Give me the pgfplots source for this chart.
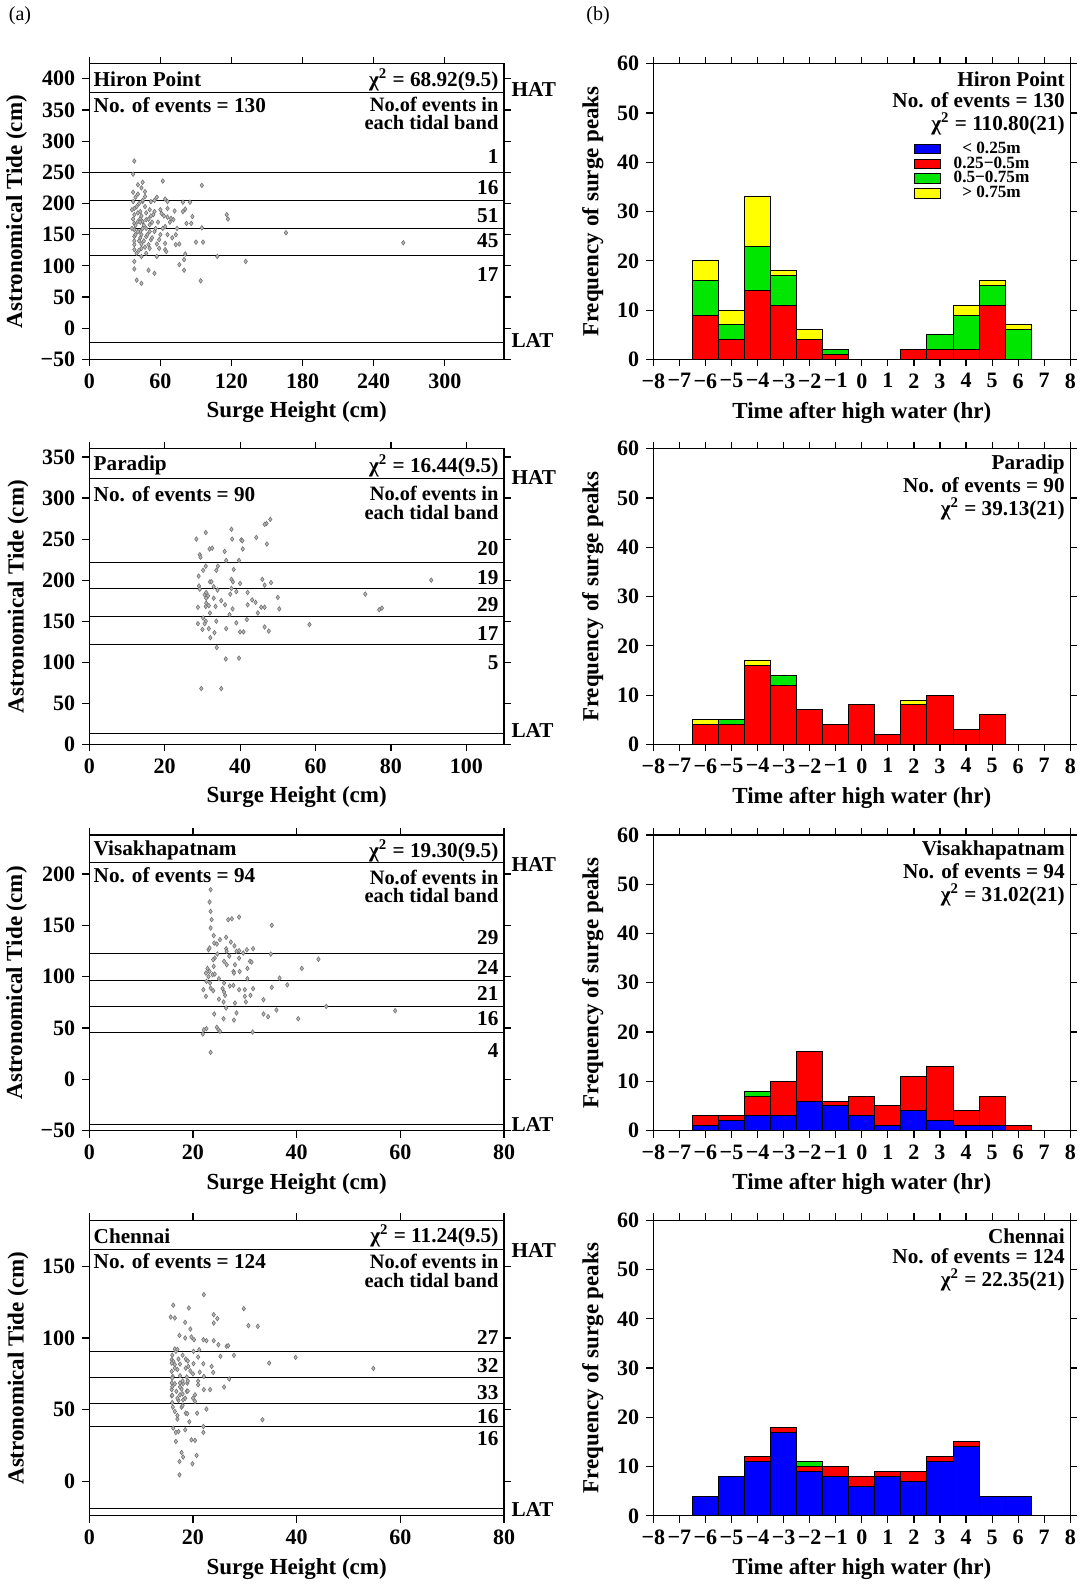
\documentclass[border=0pt]{standalone}
\usepackage{fontspec}
\setmainfont{Liberation Serif}
\usepackage{pgfplots}
\pgfplotsset{compat=1.18}
\definecolor{bblue}{RGB}{0,0,255}
\definecolor{bred}{RGB}{255,0,0}
\definecolor{bgreen}{RGB}{0,230,0}
\definecolor{byellow}{RGB}{255,255,0}
\tikzset{pf/.style={font=\bfseries\fontsize{10.6}{11}\selectfont, inner xsep=1pt},
  rt/.style={pf, anchor=east, xshift=-1.6pt},
  lt/.style={pf, anchor=west, xshift=1pt},
  ot/.style={pf, anchor=west, xshift=2.6pt},
  two/.style={pf, anchor=east, xshift=-1.6pt, align=right, font=\bfseries\fontsize{10.2}{9.2}\selectfont}}
\pgfplotsset{
  base/.style={scale only axis, clip=false, axis line style={line width=0.6pt},
    tick align=outside, major tick length=3.5pt, tick style={line width=0.6pt, black},
    /pgf/number format/assume math mode=true,
    tick label style={font=\bfseries\fontsize{11}{12}\selectfont},
    label style={font=\bfseries\fontsize{11.5}{13}\selectfont}},
  scat/.style={base, width=207.35pt, height=147.8pt, anchor=north west,
    xlabel={Surge Height (cm)}, ylabel={Astronomical Tide (cm)}},
  hist/.style={base, width=208.5pt, height=147.8pt, anchor=north west,
    xmin=-8, xmax=8, ymin=0, ymax=60, xtick={-8,...,8},
    xticklabels={−8,−7,−6,−5,−4,−3,−2,−1,0,1,2,3,4,5,6,7,8},
    ytick={0,10,...,60}, ylabel={Frequency of surge peaks},
    xlabel={Time after high water (hr)}, ybar stacked, bar width=1},
  pts/.style={only marks, mark=diamond*, mark size=1.15pt, draw=gray!90!black, fill=gray!55, line width=0.3pt},
  hl/.style={black, line width=0.5pt, no marks},
  bb/.style={fill=bblue, draw=black, line width=0.5pt},
  br/.style={fill=bred, draw=black, line width=0.5pt},
  bg/.style={fill=bgreen, draw=black, line width=0.5pt},
  by/.style={fill=byellow, draw=black, line width=0.5pt},
}
\begin{document}
\begin{tikzpicture}
\useasboundingbox (0,0) rectangle (540pt,792.5pt);
\node[font=\fontsize{10}{11}\selectfont] at (10pt,784.5pt) {(a)};
\node[font=\fontsize{10}{11}\selectfont] at (299pt,784.5pt) {(b)};

% ---------------- Hiron Point scatter
\begin{axis}[scat, at={(44.65pt,760.6pt)}, xmin=0, xmax=350, ymin=-50, ymax=424,
  xtick={0,60,...,300}, ytick={-50,0,...,400},
  yticklabels={−50,0,50,100,150,200,250,300,350,400}]
\addplot[pts] table {
38 268
37 247
41 230
45 234
62 236
95 229
37 218
41 215
47 219
47 211
37 203
45 203
52 203
57 210
64 207
66 203
79 202
85 202
38 192
43 187
51 190
55 187
66 192
81 191
79 187
38 182
43 176
48 174
54 182
61 184
69 176
71 174
87 179
116 182
117 175
38 168
41 171
45 171
51 166
64 163
82 168
86 168
95 161
38 158
43 155
48 160
55 155
66 150
73 150
166 153
38 147
43 145
48 147
52 142
59 142
38 134
44 135
50 134
51 128
64 136
73 134
76 135
90 138
96 138
265 137
38 126
44 128
48 120
59 128
64 126
65 123
38 107
44 115
57 115
76 102
81 119
80 110
108 115
132 107
38 95
50 93
55 88
80 93
40 77
44 72
94 76
40 195
42 200
44 180
46 165
39 150
42 140
47 130
40 120
45 160
50 175
53 170
56 160
41 185
43 170
49 150
37 175
39 165
44 150
46 140
52 180
58 170
60 190
62 160
68 170
70 145
36 160
38 140
42 125
48 185
53 145
57 135
63 180
74 160
39 210
45 205
36 190
41 155
47 195
51 155
55 205
60 150
66 178
72 188
44 225
};
\addplot[hl] coordinates {(0,378) (350,378)};
\addplot[hl] coordinates {(0,249) (350,249)};
\addplot[hl] coordinates {(0,204) (350,204)};
\addplot[hl] coordinates {(0,160) (350,160)};
\addplot[hl] coordinates {(0,117) (350,117)};
\addplot[hl] coordinates {(0,-22.5) (350,-22.5)};
\node[lt] at (axis cs:0,399) {Hiron Point};
\node[rt] at (axis cs:350,399) {χ\textsuperscript{2} = 68.92(9.5)};
\node[lt] at (axis cs:0,358) {No. of events = 130};
\node[two] at (axis cs:350,344) {No.of events in\\each tidal band};
\node[rt] at (axis cs:350,275) {1};
\node[rt] at (axis cs:350,225) {16};
\node[rt] at (axis cs:350,180) {51};
\node[rt] at (axis cs:350,140) {45};
\node[rt] at (axis cs:350,86) {17};
\node[ot] at (axis cs:350,382) {HAT};
\node[ot] at (axis cs:350,-20) {LAT};
\end{axis}

% ---------------- Paradip scatter
\begin{axis}[scat, at={(44.65pt,568.1pt)}, xmin=0, xmax=110, ymin=0, ymax=360,
  xtick={0,20,...,100}, ytick={0,50,...,350}]
\addplot[pts] table {
48 274
47 269
46.5 268
30.9 258
37.7 262
28.4 250
37.9 250
40.3 249
40.6 248
44.3 252
47.1 244
31.9 238
32.6 239
40.7 238
35.9 235
29.3 231
29.5 228
36.3 224
39.7 224
30.9 217
34.1 217
33.7 212
30.2 212
38.3 213
32 198
32.4 198
37.7 201
38.1 198
45.9 201
48.2 197
46.5 194
40 196
29.1 193
29.3 189
37.7 190
39 186
37.4 183
30.6 182
31.5 181
31 178
43.2 176
44.1 173
50 179
73.2 183
90.7 200
28.8 167
30.9 168
31.7 169
33.5 168
42 170
45.6 167
46.5 167
50.4 165
76.9 164
77.6 166
37.2 158
44.7 160
30.2 154
30.9 150
41.8 152
28.8 147
30.6 147
33.7 150
39 148
58.4 146
31.7 141
33.2 136
32.1 130
36.3 141
40 137
40.9 137
46.5 143
47.6 138
33.8 118
36.2 104
39.7 105
29.7 68
35 68
31 185
33 192
35 175
29 205
32 160
34 188
36 170
30 140
38 165
42 185
31 172
33 178
};
\addplot[hl] coordinates {(0,323.6) (110,323.6)};
\addplot[hl] coordinates {(0,221.5) (110,221.5)};
\addplot[hl] coordinates {(0,189.4) (110,189.4)};
\addplot[hl] coordinates {(0,155.7) (110,155.7)};
\addplot[hl] coordinates {(0,122) (110,122)};
\addplot[hl] coordinates {(0,13.4) (110,13.4)};
\node[lt] at (axis cs:0,339.4) {Paradip};
\node[rt] at (axis cs:110,339) {χ\textsuperscript{2} = 16.44(9.5)};
\node[lt] at (axis cs:0,305) {No. of events = 90};
\node[two] at (axis cs:110,294) {No.of events in\\each tidal band};
\node[rt] at (axis cs:110,239) {20};
\node[rt] at (axis cs:110,203.7) {19};
\node[rt] at (axis cs:110,170) {29};
\node[rt] at (axis cs:110,134.6) {17};
\node[rt] at (axis cs:110,99.6) {5};
\node[ot] at (axis cs:110,325) {HAT};
\node[ot] at (axis cs:110,17.5) {LAT};
\end{axis}

% ---------------- Visakhapatnam scatter
\begin{axis}[scat, at={(44.65pt,375pt)}, xmin=0, xmax=80, ymin=-50, ymax=238,
  xtick={0,20,...,80}, ytick={-50,0,...,200}, yticklabels={−50,0,50,100,150,200}]
\addplot[pts] table {
23.4 184.7
23.2 172.7
23.4 163.6
23.6 155.5
23.4 147.4
26.8 155.5
27.5 156.4
28.9 158
35.2 150
24.1 132.7
24.6 131.8
25.2 136
26.4 138.3
27.3 133.7
23.0 126.2
23.2 127.9
24.7 122
26.4 127.2
26.5 124.6
28.4 124.6
28.9 125.3
30.4 126.2
31.6 127.2
24.2 118
23.9 116.5
28.9 118
29.7 123
35 122
44.2 117
26 114.9
26.5 111.6
28.1 111.6
31 114.9
31.3 114.2
22.8 108
22.5 103.5
23.2 105
23.8 101.9
24.2 102.5
27.8 105
27.9 103.5
30.5 108
41 108
22.6 95.4
23.3 93.8
26 93.8
27.8 91.5
30.5 98
36.7 98.6
38.2 92
22 87.3
23.4 88.9
23.9 86.3
25.7 88.3
27.1 90.9
28.9 87.3
30 87.3
31.6 88.3
35.2 89.6
22.5 80.8
26.2 81.8
30 80.8
31.1 81.8
33.6 77.5
25.9 75.3
28.1 74.3
30.2 75.3
26.4 69.4
45.7 71
59 66.8
24.1 63.6
28.4 64.6
33.6 63.6
34.5 61
36.1 67.5
25.9 59
27.9 57.7
40.3 59
22.1 48.3
22.6 49.3
24.6 50.6
24.9 48.3
25.2 46.7
21.9 44.1
31.5 46
23.4 26.2
24 110
25 98
27 120
29 105
23 100
26 85
28 130
24 140
25 78
};
\addplot[hl] coordinates {(0,211) (80,211)};
\addplot[hl] coordinates {(0,122.4) (80,122.4)};
\addplot[hl] coordinates {(0,96.4) (80,96.4)};
\addplot[hl] coordinates {(0,70.7) (80,70.7)};
\addplot[hl] coordinates {(0,46) (80,46)};
\addplot[hl] coordinates {(0,-44) (80,-44)};
\node[lt] at (axis cs:0,222.7) {Visakhapatnam};
\node[rt] at (axis cs:80,222.7) {χ\textsuperscript{2} = 19.30(9.5)};
\node[lt] at (axis cs:0,198.6) {No. of events = 94};
\node[two] at (axis cs:80,188) {No.of events in\\each tidal band};
\node[rt] at (axis cs:80,138.3) {29};
\node[rt] at (axis cs:80,109) {24};
\node[rt] at (axis cs:80,84) {21};
\node[rt] at (axis cs:80,58.7) {16};
\node[rt] at (axis cs:80,27.9) {4};
\node[ot] at (axis cs:80,209) {HAT};
\node[ot] at (axis cs:80,-43.6) {LAT};
\end{axis}

% ---------------- Chennai scatter
\begin{axis}[scat, at={(44.65pt,182.35pt)}, xmin=0, xmax=80, ymin=-24, ymax=182,
  xtick={0,20,...,80}, ytick={0,50,100,150}]
\addplot[pts] table {
22.1 130.2
16.2 122.8
19.2 120.9
29.8 120.4
15.7 114.6
16.5 113.9
24 116.2
24.7 113.5
24 110.4
18.5 110.9
30.7 108.6
32.5 108.1
19.5 106.2
17.4 101.8
18.5 100
19.7 100.7
20.2 98.8
22 98.8
22.6 98.1
24 98.1
24.9 95.3
26.5 94.2
26.8 94.6
16.5 92.3
16.7 90.7
20.1 90.7
21.2 91.8
25.3 87.2
27.9 87.9
39.8 86.5
15.9 84.8
16.2 83.7
17.2 85.3
18.6 85.3
21 86.7
15.9 82.5
16.5 81.4
17.5 81.8
18.6 79
19.1 80.2
20.1 82.1
23.6 80.2
23.9 76
34.7 82.5
54.8 78.8
15.9 76.7
16.1 73.2
17.5 73.7
18.8 72.8
21.3 76.2
22.1 73.2
27 71.4
15.9 68.6
16.5 68.1
17.5 68.6
18.1 68.1
18.9 68.6
21 67.4
15.9 64
16.8 62.8
17.8 64.4
18.8 62.8
22.1 64
23.3 64
26 65.8
15.9 59.7
17.5 60.4
20.4 60.4
17.2 56.5
18.1 56.9
20.4 55.8
16.1 51.8
17.8 51.8
22.6 50.4
16.5 48.8
18.6 47.6
18.9 47.2
20.8 47.6
17 43.5
33.4 43
19.3 41.6
16.2 37.2
16.7 34.2
17.2 34.8
18.5 36
22 38.3
22 34.2
19.7 29
20.4 28.6
16.7 27.9
17.8 20.2
18.1 17
20.7 18.1
17.4 13.9
19.9 12.3
17.4 4.6
16 88
17 78
18 70
16 66
19 63
17 58
18 53
16 72
20 75
17 92
19 84
21 70
18 61
16 55
17 46
19 70
20 58
22 82
18 88
16 60
17.5 66
19.5 77
16.5 79
18.5 58
};
\addplot[hl] coordinates {(0,161.6) (80,161.6)};
\addplot[hl] coordinates {(0,90.7) (80,90.7)};
\addplot[hl] coordinates {(0,72.5) (80,72.5)};
\addplot[hl] coordinates {(0,54.6) (80,54.6)};
\addplot[hl] coordinates {(0,38.3) (80,38.3)};
\addplot[hl] coordinates {(0,-19) (80,-19)};
\node[lt] at (axis cs:0,170.9) {Chennai};
\node[rt] at (axis cs:80,170.9) {χ\textsuperscript{2} = 11.24(9.5)};
\node[lt] at (axis cs:0,153.5) {No. of events = 124};
\node[two] at (axis cs:80,146.7) {No.of events in\\each tidal band};
\node[rt] at (axis cs:80,100) {27};
\node[rt] at (axis cs:80,80.7) {32};
\node[rt] at (axis cs:80,62.1) {33};
\node[rt] at (axis cs:80,45.3) {16};
\node[rt] at (axis cs:80,30.2) {16};
\node[ot] at (axis cs:80,161.1) {HAT};
\node[ot] at (axis cs:80,-19.3) {LAT};
\end{axis}

% ---------------- Hiron Point histogram
\begin{axis}[hist, at={(326.65pt,760.6pt)},
  legend style={draw=none, fill=none, at={(axis cs:2,44.4)}, anchor=north west,
    font=\bfseries\fontsize{8.6}{8.6}\selectfont, row sep=-0.6pt, inner sep=0pt,
    nodes={inner sep=0.4pt}},
  legend image code/.code={\draw[#1] (0pt,-2.4pt) rectangle (12.7pt,2.4pt);}]
\addplot[bb] coordinates {(-6,0) (-5,0) (-4,0) (-3,0) (-2,0) (-1,0) (0,0) (1,0) (2,0) (3,0) (4,0) (5,0) (6,0)};
\addlegendentry{\makebox[50pt][c]{< 0.25m}}
\addplot[br] coordinates {(-6,9) (-5,4) (-4,14) (-3,11) (-2,4) (-1,1) (0,0) (1,0) (2,2) (3,2) (4,2) (5,11) (6,0)};
\addlegendentry{\makebox[50pt][c]{0.25−0.5m}}
\addplot[bg] coordinates {(-6,7) (-5,3) (-4,9) (-3,6) (-2,0) (-1,1) (0,0) (1,0) (2,0) (3,3) (4,7) (5,4) (6,6)};
\addlegendentry{\makebox[50pt][c]{0.5−0.75m}}
\addplot[by] coordinates {(-6,4) (-5,3) (-4,10) (-3,1) (-2,2) (-1,0) (0,0) (1,0) (2,0) (3,0) (4,2) (5,1) (6,1)};
\addlegendentry{\makebox[50pt][c]{> 0.75m}}
\node[rt] at (axis cs:8,56.8) {Hiron Point};
\node[rt] at (axis cs:8,52.7) {No. of events = 130};
\node[rt] at (axis cs:8,47.9) {χ\textsuperscript{2} = 110.80(21)};
\end{axis}

% ---------------- Paradip histogram
\begin{axis}[hist, at={(326.65pt,568.1pt)}]
\addplot[br] coordinates {(-6,4) (-5,4) (-4,16) (-3,12) (-2,7) (-1,4) (0,8) (1,2) (2,8) (3,10) (4,3) (5,6) (6,0)};
\addplot[bg] coordinates {(-6,0) (-5,1) (-4,0) (-3,2) (-2,0) (-1,0) (0,0) (1,0) (2,0) (3,0) (4,0) (5,0) (6,0)};
\addplot[by] coordinates {(-6,1) (-5,0) (-4,1) (-3,0) (-2,0) (-1,0) (0,0) (1,0) (2,1) (3,0) (4,0) (5,0) (6,0)};
\node[rt] at (axis cs:8,56.8) {Paradip};
\node[rt] at (axis cs:8,52.7) {No. of events = 90};
\node[rt] at (axis cs:8,47.9) {χ\textsuperscript{2} = 39.13(21)};
\end{axis}

% ---------------- Visakhapatnam histogram
\begin{axis}[hist, at={(326.65pt,375pt)}]
\addplot[bb] coordinates {(-6,1) (-5,2) (-4,3) (-3,3) (-2,6) (-1,5) (0,3) (1,1) (2,4) (3,2) (4,1) (5,1) (6,0)};
\addplot[br] coordinates {(-6,2) (-5,1) (-4,4) (-3,7) (-2,10) (-1,1) (0,4) (1,4) (2,7) (3,11) (4,3) (5,6) (6,1)};
\addplot[bg] coordinates {(-6,0) (-5,0) (-4,1) (-3,0) (-2,0) (-1,0) (0,0) (1,0) (2,0) (3,0) (4,0) (5,0) (6,0)};
\node[rt] at (axis cs:8,56.8) {Visakhapatnam};
\node[rt] at (axis cs:8,52.7) {No. of events = 94};
\node[rt] at (axis cs:8,47.9) {χ\textsuperscript{2} = 31.02(21)};
\end{axis}

% ---------------- Chennai histogram
\begin{axis}[hist, at={(326.65pt,182.35pt)}]
\addplot[bb] coordinates {(-6,4) (-5,8) (-4,11) (-3,17) (-2,9) (-1,8) (0,6) (1,8) (2,7) (3,11) (4,14) (5,4) (6,4)};
\addplot[br] coordinates {(-6,0) (-5,0) (-4,1) (-3,1) (-2,1) (-1,2) (0,2) (1,1) (2,2) (3,1) (4,1) (5,0) (6,0)};
\addplot[bg] coordinates {(-6,0) (-5,0) (-4,0) (-3,0) (-2,1) (-1,0) (0,0) (1,0) (2,0) (3,0) (4,0) (5,0) (6,0)};
\node[rt] at (axis cs:8,56.8) {Chennai};
\node[rt] at (axis cs:8,52.7) {No. of events = 124};
\node[rt] at (axis cs:8,47.9) {χ\textsuperscript{2} = 22.35(21)};
\end{axis}
\end{tikzpicture}
\end{document}
